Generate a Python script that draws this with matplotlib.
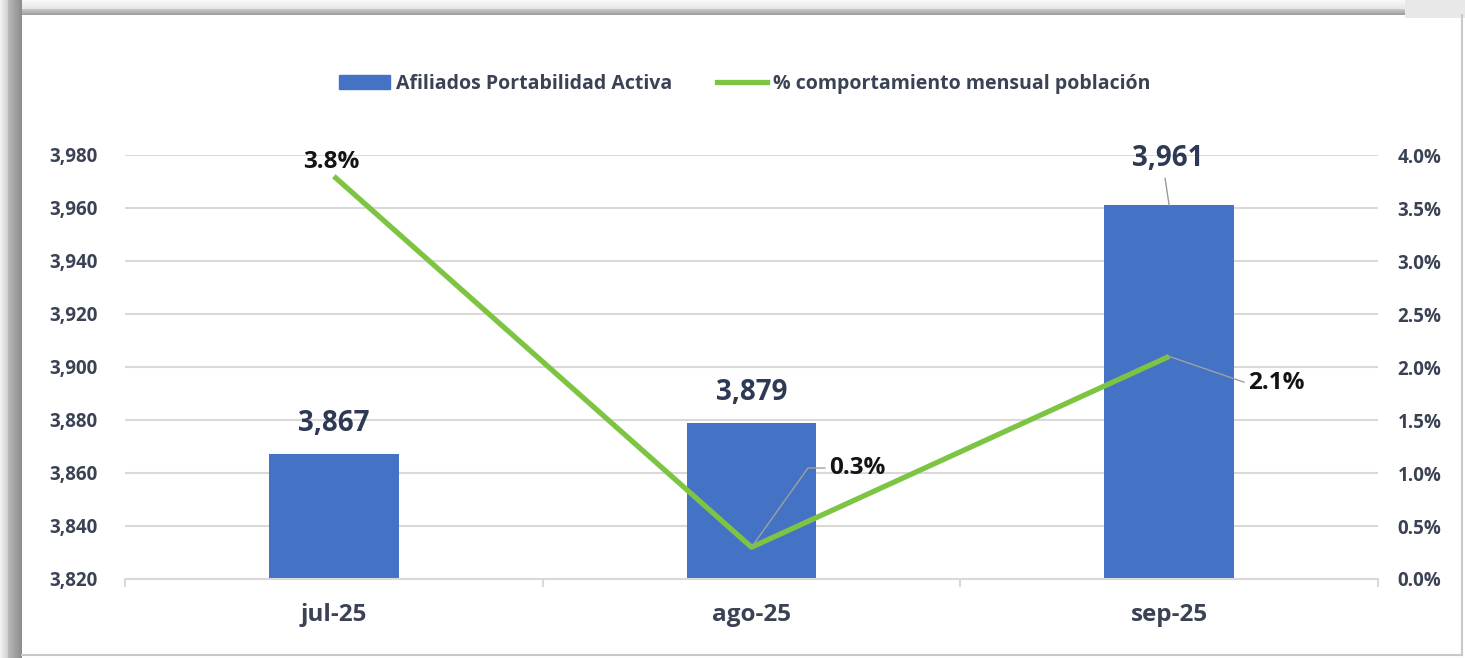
import numpy as np
import matplotlib
matplotlib.use("Agg")
import matplotlib.pyplot as plt
from matplotlib.patches import Patch
from matplotlib.lines import Line2D
from matplotlib.ticker import FuncFormatter, MultipleLocator

plt.rcParams["font.family"] = ["Open Sans", "DejaVu Sans"]

months = ["jul-25", "ago-25", "sep-25"]
afiliados = [3867, 3879, 3961]
pct_mensual = [3.8, 0.3, 2.1]
series_names = ["Afiliados Portabilidad Activa", "% comportamiento mensual población"]

BAR = "#4472C4"
GREEN = "#7DC443"
TXT = "#3A4254"
NAVY = "#2E3A55"
GRID = "#D9D9D9"

W, H = 1465, 658
fig = plt.figure(figsize=(W / 100, H / 100), dpi=100)

# screenshot frame / drop shadow
bg = fig.add_axes([0, 0, 1, 1], zorder=-10)
bg.set_xlim(0, W); bg.set_ylim(H, 0); bg.axis("off")
top = np.concatenate([np.linspace(0.97, 0.9, 9), np.linspace(0.78, 0.62, 6)])
bg.imshow(top[:, None], cmap="gray", vmin=0, vmax=1, extent=(0, 1405, 15, 0), aspect="auto")
left = np.concatenate([np.linspace(0.95, 0.82, 8), np.linspace(0.72, 0.55, 14)])
bg.imshow(left[None, :], cmap="gray", vmin=0, vmax=1, extent=(0, 22, H, 0), aspect="auto")
bg.imshow(np.full((1, 1), 0.91), cmap="gray", vmin=0, vmax=1, extent=(1405, W, 18, 0), aspect="auto")
bg.plot([1462, 1462], [15, 655], color="#C8C8C8", lw=1.5)
bg.plot([22, 1462], [655, 655], color="#C8C8C8", lw=1.5)
bg.set_xlim(0, W); bg.set_ylim(H, 0)

ax = fig.add_axes([125 / W, 1 - 579 / H, (1378 - 125) / W, (579 - 155) / H])
x = np.arange(len(months))
ax.bar(x, afiliados, width=0.31, color=BAR, zorder=2)
ax.set_xlim(-0.5, 2.5)
ax.set_ylim(3820, 3980)
ax.yaxis.set_major_locator(MultipleLocator(20))
ax.yaxis.set_major_formatter(FuncFormatter(lambda v, p: f"{v:,.0f}"))
ax.grid(axis="y", color=GRID, lw=1.5, zorder=0)
ax.set_axisbelow(True)
for s in ["top", "right", "left"]:
    ax.spines[s].set_visible(False)
ax.spines["bottom"].set_color(GRID)
ax.spines["bottom"].set_linewidth(1.5)
ax.set_xticks(x)
ax.set_xticklabels(months, fontsize=17.5, fontweight="bold", color=TXT)
ax.set_xticks(np.arange(-0.5, 3, 1), minor=True)
ax.tick_params(axis="x", which="major", length=0, pad=17)
ax.tick_params(axis="x", which="minor", length=6, color=GRID, width=1.5)
ax.tick_params(axis="y", length=0, pad=20, labelsize=13.5, labelcolor=TXT)
for t in ax.get_yticklabels():
    t.set_fontweight("bold")

ax2 = ax.twinx()
ax2.plot(x, pct_mensual, color=GREEN, lw=3.8, zorder=3, solid_capstyle="butt")
ax2.set_ylim(0, 4)
ax2.yaxis.set_major_locator(MultipleLocator(0.5))
ax2.yaxis.set_major_formatter(FuncFormatter(lambda v, p: f"{v:.1f}%"))
for s in ax2.spines.values():
    s.set_visible(False)
ax2.tick_params(axis="y", length=0, pad=14, labelsize=13.5, labelcolor=TXT)
for t in ax2.get_yticklabels():
    t.set_fontweight("bold")

# bar labels
bar_offsets = [(0, 22), (0, 22), (-1, 34)]
for i, (v, off) in enumerate(zip(afiliados, bar_offsets)):
    arrow = None
    if i == 2:
        arrow = dict(arrowstyle="-", color="#9A9A9A", lw=1, shrinkA=2, shrinkB=0, relpos=(0.45, 0))
    ax.annotate(f"{v:,}", (x[i], v), xytext=off, textcoords="offset points",
                ha="center", va="center", fontsize=20, fontweight="bold", color=NAVY,
                arrowprops=arrow, zorder=5)

# percent labels
pct_offsets = [(-2, 10), (56, 57), (57, -19)]
angles = [None, 54.5, -19]
for i, (v, off, ang) in enumerate(zip(pct_mensual, pct_offsets, angles)):
    arrow = None
    ha = "center"
    if ang is not None:
        ha = "left"
        arrow = dict(arrowstyle="-", color="#A0A0A0", lw=1, shrinkA=1, shrinkB=0, relpos=(0, 0.5),
                     connectionstyle=f"angle,angleA=0,angleB={ang},rad=0")
    ax2.annotate(f"{v:.1f}%", (x[i], v), xytext=off, textcoords="offset points",
                 ha=ha, va="center", fontsize=17.5, fontweight="bold", color="#141414",
                 arrowprops=arrow, zorder=6)

handles = [Patch(color=BAR), Line2D([0], [0], color=GREEN, lw=3.8)]
fig.legend(handles, series_names, loc="center", bbox_to_anchor=(745 / W, 1 - 84 / H), ncol=2,
           frameon=False, handlelength=2.6, handletextpad=0.3, columnspacing=2.3,
           prop={"size": 14, "weight": "bold"}, labelcolor=TXT)

fig.savefig("out.png", dpi=100)
